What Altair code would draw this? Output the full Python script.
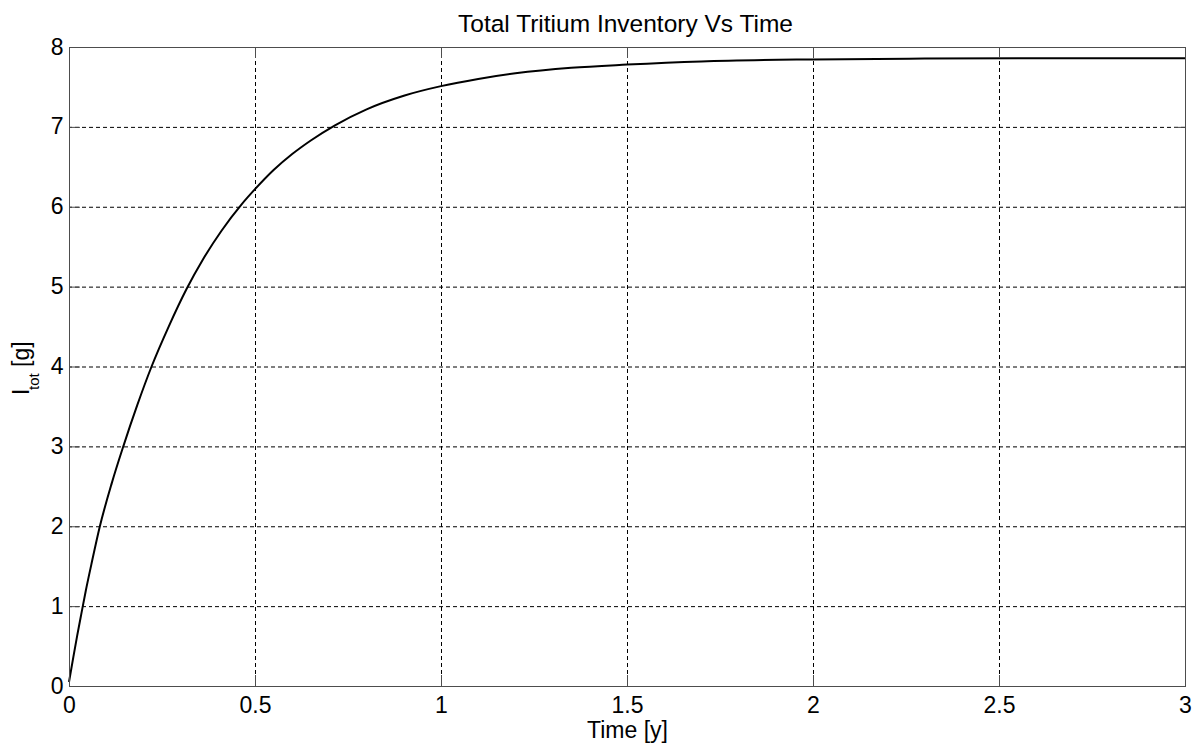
import altair as alt
import pandas as pd

# Total tritium inventory (g) versus time (years)
time_y = [0.0, 0.012, 0.022, 0.033, 0.045, 0.06, 0.083, 0.115, 0.146, 0.183,
          0.222, 0.268, 0.316, 0.36, 0.41, 0.464, 0.5, 0.55, 0.6, 0.65,
          0.715, 0.8, 0.9, 1.0, 1.1, 1.2, 1.35, 1.5, 1.7, 2.0, 2.3, 2.6, 3.0]
inventory_g = [0.05, 0.37, 0.63, 0.9, 1.19, 1.52, 2.0, 2.54, 3.0, 3.51,
               4.0, 4.5, 4.97, 5.34, 5.70, 6.03, 6.22, 6.46, 6.66, 6.83,
               7.02, 7.22, 7.39, 7.51, 7.6, 7.67, 7.74, 7.78, 7.82, 7.845, 7.855, 7.86, 7.86]

x_ticks = [0, 0.5, 1, 1.5, 2, 2.5, 3]
y_ticks = [0, 1, 2, 3, 4, 5, 6, 7, 8]
x_grid = [0.5, 1, 1.5, 2, 2.5]
y_grid = [1, 2, 3, 4, 5, 6, 7]

W, H = 1116, 639
TICK = 11
FONT = "Liberation Sans"
FRAME = "#4d4d4d"

curve = pd.DataFrame({"t": time_y, "I": inventory_g})
xt = pd.DataFrame({"t": x_ticks})
yt = pd.DataFrame({"I": y_ticks})
xg = pd.DataFrame({"t": x_grid})
yg = pd.DataFrame({"I": y_grid})

xs = alt.Scale(domain=[0, 3], nice=False, zero=False)
ys = alt.Scale(domain=[0, 8], nice=False, zero=False)

x_axis = alt.Axis(values=x_ticks, format="~g", title="Time [y]",
                  grid=False, ticks=False, domain=False,
                  labelFont=FONT, labelFontSize=23, labelColor="black",
                  labelPadding=8, labelFlush=False,
                  titleFont=FONT, titleFontSize=23, titleFontWeight="normal",
                  titleColor="black", titlePadding=2)
y_axis = alt.Axis(values=y_ticks, format="~g", title=None,
                  grid=False, ticks=False, domain=False,
                  labelFont=FONT, labelFontSize=23, labelColor="black",
                  labelPadding=6, labelFlush=False)

X = alt.X("t:Q", scale=xs, axis=x_axis)
Y = alt.Y("I:Q", scale=ys, axis=y_axis)
dash = [4, 3]

line = alt.Chart(curve).mark_line(color="black", strokeWidth=2, interpolate="monotone").encode(x=X, y=Y)

# dotted grid
grid_x = alt.Chart(xg).mark_rule(color="black", strokeWidth=1, strokeDash=dash, xOffset=0.5).encode(x=X)
grid_y = alt.Chart(yg).mark_rule(color="black", strokeWidth=1, strokeDash=dash, yOffset=0.5).encode(y=Y)

# inward ticks on all four sides
tick_bottom = alt.Chart(xt).mark_rule(color=FRAME, xOffset=0.5).encode(
    x=X, y=alt.value(H), y2=alt.value(H - TICK))
tick_top = alt.Chart(xt).mark_rule(color=FRAME, xOffset=0.5).encode(
    x=X, y=alt.value(0), y2=alt.value(TICK))
tick_left = alt.Chart(yt).mark_rule(color=FRAME, yOffset=0.5).encode(
    y=Y, x=alt.value(0), x2=alt.value(TICK))
tick_right = alt.Chart(yt).mark_rule(color=FRAME, yOffset=0.5).encode(
    y=Y, x=alt.value(W), x2=alt.value(W - TICK))

# box frame
frame_h = alt.Chart(pd.DataFrame({"p": [0.5, H + 0.5]})).mark_rule(color=FRAME).encode(
    y=alt.Y("p:Q", scale=None), x=alt.value(0), x2=alt.value(W + 1))
frame_v = alt.Chart(pd.DataFrame({"p": [0.5, W + 0.5]})).mark_rule(color=FRAME).encode(
    x=alt.X("p:Q", scale=None), y=alt.value(0), y2=alt.value(H + 1))

# chart title
title = alt.Chart(pd.DataFrame({"s": ["Total Tritium Inventory Vs Time"]})).mark_text(
    align="center", baseline="alphabetic", font=FONT, fontSize=24.5, color="black"
).encode(text="s:N", x=alt.value(W / 2 - 1.5), y=alt.value(-15))

# y-axis title with subscript, drawn as rotated text pieces
ylab_main = alt.Chart(pd.DataFrame({"s": ["I"]})).mark_text(
    angle=270, align="left", baseline="alphabetic", font=FONT, fontSize=23, color="black"
).encode(text="s:N", x=alt.value(-40), y=alt.value(348))
ylab_sub = alt.Chart(pd.DataFrame({"s": ["tot"]})).mark_text(
    angle=270, align="left", baseline="alphabetic", font=FONT, fontSize=15, color="black"
).encode(text="s:N", x=alt.value(-30), y=alt.value(343))
ylab_unit = alt.Chart(pd.DataFrame({"s": ["[g]"]})).mark_text(
    angle=270, align="left", baseline="alphabetic", font=FONT, fontSize=23, color="black"
).encode(text="s:N", x=alt.value(-40), y=alt.value(320))

chart = alt.layer(
    line, grid_x, grid_y, tick_bottom, tick_top, tick_left, tick_right,
    frame_h, frame_v, title, ylab_main, ylab_sub, ylab_unit
).properties(
    width=W, height=H,
    autosize=alt.AutoSizeParams(type="none"),
    padding={"left": 69, "top": 47, "right": 9, "bottom": 59},
).configure_view(stroke=None).configure(background="white")

chart.save("out.html", embed_options={"renderer": "svg", "actions": False})
